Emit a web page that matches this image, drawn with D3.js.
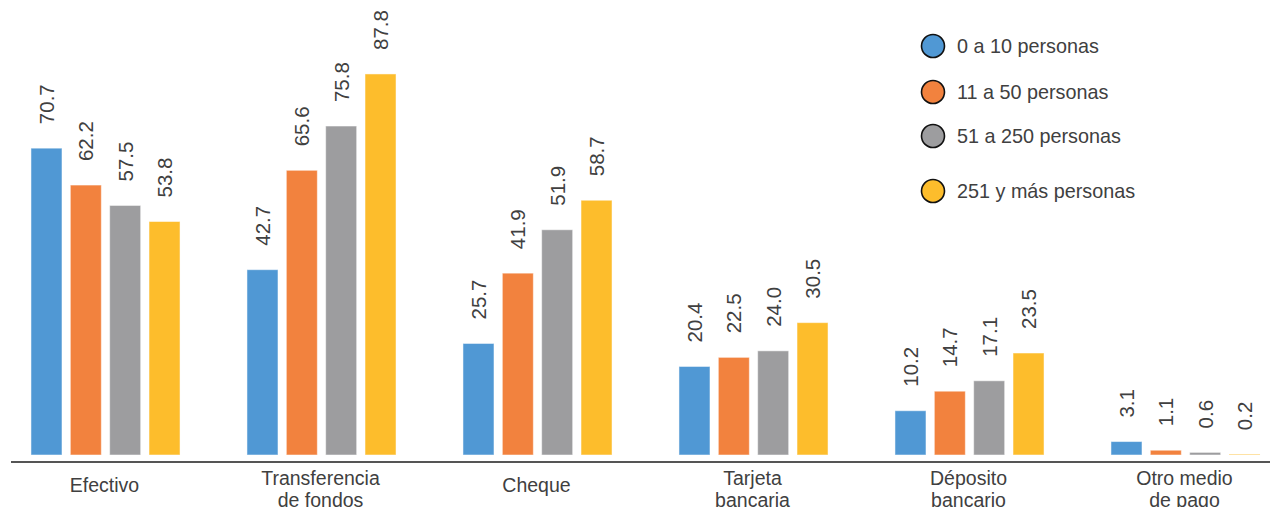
<!DOCTYPE html>
<html>
<head>
<meta charset="utf-8">
<script src="https://cdn.jsdelivr.net/npm/d3@7"></script>
<style>
  html, body { margin: 0; padding: 0; background: #fff; }
  svg { display: block; font-family: Arial, "Liberation Sans", sans-serif; }
</style>
</head>
<body>
<svg id="chart" width="1270" height="507"></svg>
<script>
// Medio de pago por tamaño de empresa (%)
const categories = [
  ["Efectivo"],
  ["Transferencia", "de fondos"],
  ["Cheque"],
  ["Tarjeta", "bancaria"],
  ["Déposito", "bancario"],
  ["Otro medio", "de pago"]
];
const seriesNames = ["0 a 10 personas", "11 a 50 personas", "51 a 250 personas", "251 y más personas"];
const small   = [70.7, 42.7, 25.7, 20.4, 10.2, 3.1];
const medium  = [62.2, 65.6, 41.9, 22.5, 14.7, 1.1];
const large   = [57.5, 75.8, 51.9, 24.0, 17.1, 0.6];
const xlarge  = [53.8, 87.8, 58.7, 30.5, 23.5, 0.2];
const seriesValues = [small, medium, large, xlarge];
const colors = ["#5098d4", "#f2823e", "#9d9d9f", "#fdbd2c"];

const svg = d3.select("#chart");
const textColor = "#404040";

const catKeys = categories.map((c, i) => i);
const x0 = d3.scaleBand()
  .domain(catKeys)
  .range([-2.5, 1293.5])
  .paddingInner(0.31)
  .paddingOuter(0.155);
const x1 = d3.scaleBand()
  .domain(d3.range(seriesNames.length))
  .range([0, x0.bandwidth()])
  .paddingInner(0.212)
  .paddingOuter(0);
const y = d3.scaleLinear().domain([0, 100]).range([455, 21]);

// Bars
const groups = svg.append("g").selectAll("g")
  .data(catKeys)
  .join("g")
  .attr("transform", d => `translate(${x0(d)},0)`);

groups.selectAll("rect")
  .data(ci => seriesValues.map((vals, si) => ({ si, v: vals[ci] })))
  .join("rect")
  .attr("x", d => x1(d.si))
  .attr("width", x1.bandwidth())
  .attr("y", d => y(d.v))
  .attr("height", d => y(0) - y(d.v))
  .attr("fill", d => colors[d.si])
  .attr("stroke", "#ffffff")
  .attr("stroke-opacity", 0.5)
  .attr("stroke-width", 1);

// Value labels, rotated
groups.selectAll("text.val")
  .data(ci => seriesValues.map((vals, si) => ({ si, v: vals[ci] })))
  .join("text")
  .attr("class", "val")
  .attr("transform", d => `translate(${x1(d.si) + x1.bandwidth() / 2 + 7.5},${y(d.v) - 24}) rotate(-90)`)
  .attr("text-anchor", "start")
  .attr("font-size", 20.5)
  .attr("fill", textColor)
  .text(d => d.v.toFixed(1));

// Baseline axis
svg.append("line")
  .attr("x1", 11).attr("x2", 1270)
  .attr("y1", 462).attr("y2", 462)
  .attr("stroke", "#555555")
  .attr("stroke-width", 2);

// Category labels
const catText = svg.append("g").selectAll("text")
  .data(catKeys)
  .join("text")
  .attr("x", d => x0(d) + x0.bandwidth() / 2 - 1)
  .attr("y", d => categories[d].length > 1 ? 485 : 492)
  .attr("text-anchor", "middle")
  .attr("font-size", 19.5)
  .attr("fill", textColor);
catText.selectAll("tspan")
  .data(d => categories[d].map((t, k) => ({ t, k, x: x0(d) + x0.bandwidth() / 2 - 1 })))
  .join("tspan")
  .attr("x", d => d.x)
  .attr("dy", d => d.k === 0 ? 0 : 21.5)
  .text(d => d.t);

// Legend
const legendY = [46, 92, 136, 191];
const legend = svg.append("g").selectAll("g")
  .data(seriesNames)
  .join("g")
  .attr("transform", (d, i) => `translate(933,${legendY[i]})`);
legend.append("circle")
  .attr("r", 11.5)
  .attr("fill", (d, i) => colors[i])
  .attr("stroke", "#111111")
  .attr("stroke-width", 1.6);
legend.append("text")
  .attr("x", 24)
  .attr("y", 7)
  .attr("font-size", 19.8)
  .attr("fill", textColor)
  .text(d => d);
</script>
</body>
</html>
